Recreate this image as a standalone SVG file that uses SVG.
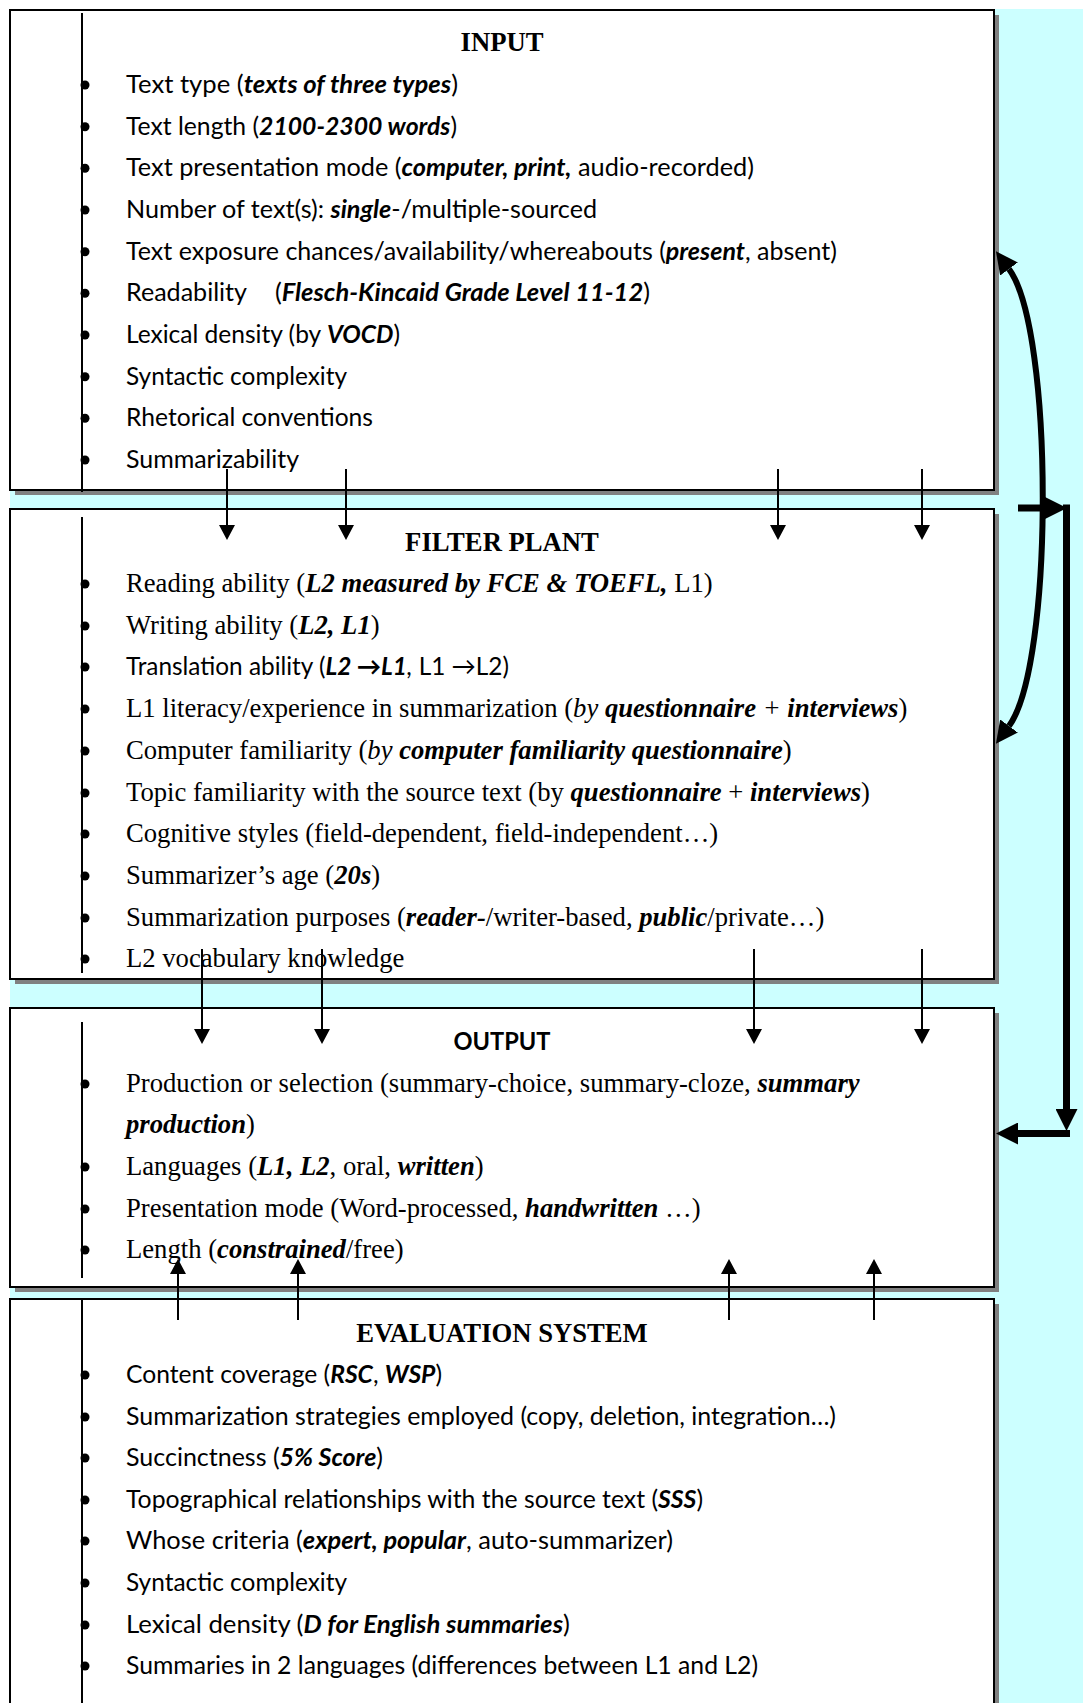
<svg xmlns="http://www.w3.org/2000/svg" width="1083" height="1703" viewBox="0 0 1083 1703">
<style>
.bg{fill:#ccffff}
.shadow{fill:#808080}
.box{fill:#fff;stroke:#000;stroke-width:2}
.vline{stroke:#000;stroke-width:2}
.bullet{fill:#000}
.sans{font-family:Lato,"Open Sans","Liberation Sans",sans-serif;font-size:24.5px;fill:#000}
.serif{font-family:"Liberation Serif","Times New Roman",serif;font-size:26.67px;fill:#000}
.title{font-family:"Liberation Serif","Times New Roman",serif;font-size:26.67px;font-weight:bold;text-anchor:middle;fill:#000}
.stitle{font-family:Lato,"Open Sans","Liberation Sans",sans-serif;font-size:24.5px;font-weight:bold;text-anchor:middle;fill:#000}
.bi{font-weight:bold;font-style:italic}
.i{font-style:italic}
.conn{stroke:#000;stroke-width:2;fill:none}
.thick{stroke:#000;stroke-width:7;fill:none}
.curve{stroke:#000;stroke-width:6;fill:none}
</style>
<defs>
<marker id="ah" markerUnits="userSpaceOnUse" markerWidth="15" markerHeight="16" refX="0" refY="8" orient="auto" viewBox="0 0 15 16"><path d="M0,0 L15,8 L0,16 z" fill="#000"/></marker>
<marker id="ahT" markerUnits="userSpaceOnUse" markerWidth="22" markerHeight="22" refX="0" refY="11" orient="auto-start-reverse" viewBox="0 0 22 22"><path d="M0,0 L22,11 L0,22 z" fill="#000"/></marker>
</defs>
<rect class="bg" x="10" y="9" width="1073" height="1694"/>

<g id="input">
<rect class="shadow" x="15" y="15" width="984" height="480"/>
<rect class="box" x="10" y="10" width="984" height="480"/>
<line class="vline" x1="82" y1="13" x2="82" y2="492"/>
<text class="title" x="502" y="51">INPUT</text>
<g class="bullet"><circle cx="85" cy="85" r="4.5"/><circle cx="85" cy="126.7" r="4.5"/><circle cx="85" cy="168.3" r="4.5"/><circle cx="85" cy="210" r="4.5"/><circle cx="85" cy="251.7" r="4.5"/><circle cx="85" cy="293.3" r="4.5"/><circle cx="85" cy="335" r="4.5"/><circle cx="85" cy="376.7" r="4.5"/><circle cx="85" cy="418.3" r="4.5"/><circle cx="85" cy="460" r="4.5"/></g>
<text class="sans" x="126" y="93" textLength="332" lengthAdjust="spacingAndGlyphs">Text type (<tspan class="bi">texts of three types</tspan>)</text>
<text class="sans" x="126" y="134.7" textLength="331" lengthAdjust="spacingAndGlyphs">Text length (<tspan class="bi">2100-2300 words</tspan>)</text>
<text class="sans" x="126" y="176.3" textLength="628" lengthAdjust="spacingAndGlyphs">Text presentation mode (<tspan class="bi">computer, print,</tspan> audio-recorded)</text>
<text class="sans" x="126" y="218" textLength="471" lengthAdjust="spacingAndGlyphs">Number of text(s): <tspan class="bi">single</tspan>-/multiple-sourced</text>
<text class="sans" x="126" y="259.7" textLength="711" lengthAdjust="spacingAndGlyphs">Text exposure chances/availability/whereabouts (<tspan class="bi">present</tspan>, absent)</text>
<text class="sans" x="126" y="301.3" textLength="121" lengthAdjust="spacingAndGlyphs">Readability</text>
<text class="sans" x="275" y="301.3" textLength="375" lengthAdjust="spacingAndGlyphs">(<tspan class="bi">Flesch-Kincaid Grade Level 11-12</tspan>)</text>
<text class="sans" x="126" y="343" textLength="274" lengthAdjust="spacingAndGlyphs">Lexical density (by <tspan class="bi">VOCD</tspan>)</text>
<text class="sans" x="126" y="384.7" textLength="221" lengthAdjust="spacingAndGlyphs">Syntactic complexity</text>
<text class="sans" x="126" y="426.3" textLength="247" lengthAdjust="spacingAndGlyphs">Rhetorical conventions</text>
<text class="sans" x="126" y="468" textLength="173" lengthAdjust="spacingAndGlyphs">Summarizability</text>
</g>

<g id="filter-plant">
<rect class="shadow" x="15" y="514" width="984" height="470"/>
<rect class="box" x="10" y="509" width="984" height="470"/>
<line class="vline" x1="82" y1="517" x2="82" y2="973"/>
<text class="title" x="502" y="551">FILTER PLANT</text>
<g class="bullet"><circle cx="85" cy="584" r="4.5"/><circle cx="85" cy="626" r="4.5"/><circle cx="85" cy="667" r="4.5"/><circle cx="85" cy="709" r="4.5"/><circle cx="85" cy="751" r="4.5"/><circle cx="85" cy="793" r="4.5"/><circle cx="85" cy="834" r="4.5"/><circle cx="85" cy="876" r="4.5"/><circle cx="85" cy="918" r="4.5"/><circle cx="85" cy="959" r="4.5"/></g>
<text class="serif" x="126" y="592">Reading ability (<tspan class="bi">L2 measured by FCE &amp; TOEFL,</tspan> L1)</text>
<text class="serif" x="126" y="634">Writing ability (<tspan class="bi">L2, L1</tspan>)</text>
<text class="sans" x="126" y="675" textLength="383" lengthAdjust="spacingAndGlyphs">Translation ability (<tspan class="bi">L2 →L1</tspan><tspan class="i">,</tspan> L1 →L2)</text>
<text class="serif" x="126" y="717">L1 literacy/experience in summarization (<tspan class="i">by </tspan><tspan class="bi">questionnaire</tspan><tspan class="i"> + </tspan><tspan class="bi">interviews</tspan>)</text>
<text class="serif" x="126" y="759">Computer familiarity (<tspan class="i">by </tspan><tspan class="bi">computer familiarity questionnaire</tspan>)</text>
<text class="serif" x="126" y="801">Topic familiarity with the source text (by <tspan class="bi">questionnaire</tspan> + <tspan class="bi">interviews</tspan>)</text>
<text class="serif" x="126" y="842">Cognitive styles (field-dependent, field-independent…)</text>
<text class="serif" x="126" y="884">Summarizer’s age (<tspan class="bi">20s</tspan>)</text>
<text class="serif" x="126" y="926">Summarization purposes (<tspan class="bi">reader-</tspan>/writer-based, <tspan class="bi">public</tspan>/private…)</text>
<text class="serif" x="126" y="967">L2 vocabulary knowledge</text>
</g>

<g id="output">
<rect class="shadow" x="15" y="1013" width="984" height="279"/>
<rect class="box" x="10" y="1008" width="984" height="279"/>
<line class="vline" x1="82" y1="1022" x2="82" y2="1278"/>
<text class="stitle" x="502" y="1050" textLength="97" lengthAdjust="spacingAndGlyphs">OUTPUT</text>
<g class="bullet"><circle cx="85" cy="1084" r="4.5"/><circle cx="85" cy="1167" r="4.5"/><circle cx="85" cy="1209" r="4.5"/><circle cx="85" cy="1250" r="4.5"/></g>
<text class="serif" x="126" y="1092">Production or selection (summary-choice, summary-cloze, <tspan class="bi">summary</tspan></text>
<text class="serif" x="126" y="1133"><tspan class="bi">production</tspan>)</text>
<text class="serif" x="126" y="1175">Languages (<tspan class="bi">L1, L2</tspan>, oral, <tspan class="bi">written</tspan>)</text>
<text class="serif" x="126" y="1217">Presentation mode (Word-processed, <tspan class="bi">handwritten</tspan> …)</text>
<text class="serif" x="126" y="1258">Length (<tspan class="bi">constrained</tspan>/free)</text>
</g>

<g id="evaluation-system">
<rect class="shadow" x="15" y="1304" width="984" height="420"/>
<rect class="box" x="10" y="1299" width="984" height="420"/>
<line class="vline" x1="82" y1="1299" x2="82" y2="1703"/>
<text class="title" x="502" y="1342">EVALUATION SYSTEM</text>
<g class="bullet"><circle cx="85" cy="1375" r="4.5"/><circle cx="85" cy="1417" r="4.5"/><circle cx="85" cy="1458" r="4.5"/><circle cx="85" cy="1500" r="4.5"/><circle cx="85" cy="1541" r="4.5"/><circle cx="85" cy="1583" r="4.5"/><circle cx="85" cy="1625" r="4.5"/><circle cx="85" cy="1666" r="4.5"/></g>
<text class="sans" x="126" y="1383" textLength="316" lengthAdjust="spacingAndGlyphs">Content coverage (<tspan class="bi">RSC</tspan>, <tspan class="bi">WSP</tspan>)</text>
<text class="sans" x="126" y="1425" textLength="710" lengthAdjust="spacingAndGlyphs">Summarization strategies employed (copy, deletion, integration…)</text>
<text class="sans" x="126" y="1466" textLength="257" lengthAdjust="spacingAndGlyphs">Succinctness (<tspan class="bi">5% Score</tspan>)</text>
<text class="sans" x="126" y="1508" textLength="577" lengthAdjust="spacingAndGlyphs">Topographical relationships with the source text (<tspan class="bi">SSS</tspan>)</text>
<text class="sans" x="126" y="1549" textLength="547" lengthAdjust="spacingAndGlyphs">Whose criteria (<tspan class="bi">expert, popular</tspan>, auto-summarizer)</text>
<text class="sans" x="126" y="1591" textLength="221" lengthAdjust="spacingAndGlyphs">Syntactic complexity</text>
<text class="sans" x="126" y="1633" textLength="444" lengthAdjust="spacingAndGlyphs">Lexical density (<tspan class="bi">D for English summaries</tspan>)</text>
<text class="sans" x="126" y="1674" textLength="632" lengthAdjust="spacingAndGlyphs">Summaries in 2 languages (differences between L1 and L2)</text>
</g>

<g id="connectors">
<line class="conn" x1="227" y1="469" x2="227" y2="525" marker-end="url(#ah)"/>
<line class="conn" x1="346" y1="469" x2="346" y2="525" marker-end="url(#ah)"/>
<line class="conn" x1="778" y1="469" x2="778" y2="525" marker-end="url(#ah)"/>
<line class="conn" x1="922" y1="469" x2="922" y2="525" marker-end="url(#ah)"/>
<line class="conn" x1="202" y1="949" x2="202" y2="1029" marker-end="url(#ah)"/>
<line class="conn" x1="322" y1="949" x2="322" y2="1029" marker-end="url(#ah)"/>
<line class="conn" x1="754" y1="949" x2="754" y2="1029" marker-end="url(#ah)"/>
<line class="conn" x1="922" y1="949" x2="922" y2="1029" marker-end="url(#ah)"/>
<line class="conn" x1="178" y1="1320" x2="178" y2="1274" marker-end="url(#ah)"/>
<line class="conn" x1="298" y1="1320" x2="298" y2="1274" marker-end="url(#ah)"/>
<line class="conn" x1="729" y1="1320" x2="729" y2="1274" marker-end="url(#ah)"/>
<line class="conn" x1="874" y1="1320" x2="874" y2="1274" marker-end="url(#ah)"/>
<path class="curve" d="M1009,269 C1054,330 1054,665 1009,726" marker-start="url(#ahT)" marker-end="url(#ahT)"/>
<line class="thick" x1="1018" y1="508" x2="1045" y2="508" marker-end="url(#ahT)"/>
<line class="thick" x1="1066.5" y1="504.5" x2="1066.5" y2="1109" marker-end="url(#ahT)"/>
<line class="thick" x1="1070" y1="1133.5" x2="1018" y2="1133.5" marker-end="url(#ahT)"/>
</g>
</svg>
